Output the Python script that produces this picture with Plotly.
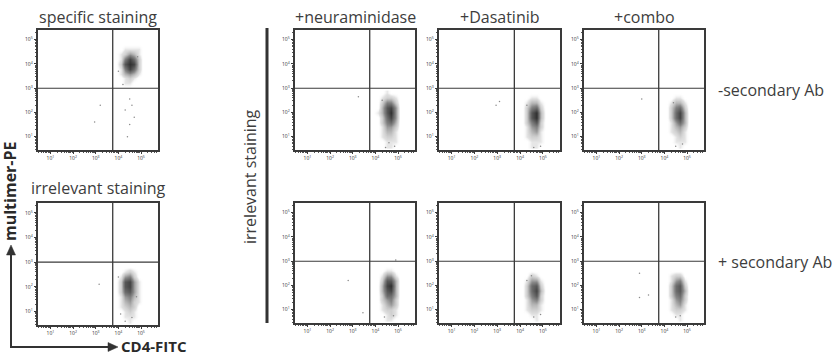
import numpy as np
import plotly.graph_objects as go

W, H = 840, 358

# ---------------- data ----------------
DECADES = [1, 2, 3, 4, 5]
TICK_TEXT = ["10<sup>1</sup>", "10<sup>2</sup>", "10<sup>3</sup>", "10<sup>4</sup>", "10<sup>5</sup>"]
X_RANGE = [0.45, 5.75]          # log10 CD4-FITC
Y_RANGE = [0.45, 5.4]           # log10 multimer-PE
GATE_X = 3.75
GATE_Y = 3.0

X_BINS = [3.9, 4.1, 4.3, 4.5, 4.7, 4.9, 5.1]
Y_BINS_NEG = [0.6, 0.8, 1.0, 1.2, 1.4, 1.6, 1.8, 2.0, 2.2, 2.4, 2.6, 2.8]
Y_BINS_POS = [3.0, 3.2, 3.4, 3.6, 3.8, 4.0, 4.2, 4.4, 4.6, 4.8]

DENS_SPECIFIC = [
    [0, 0, 0, 0, 0, 0, 0],
    [0, 0, 1, 1, 0, 0, 0],
    [0, 0, 1, 2, 1, 0, 0],
    [0, 1, 3, 4, 3, 1, 0],
    [0, 1, 5, 8, 6, 2, 0],
    [0, 2, 7, 9, 8, 2, 0],
    [0, 1, 5, 8, 6, 2, 0],
    [0, 1, 2, 4, 3, 1, 0],
    [0, 0, 1, 1, 1, 1, 0],
    [0, 0, 0, 0, 0, 0, 0],
]
DENS_IRRELEVANT = [
    [0, 0, 0, 1, 0, 0, 0],
    [0, 0, 1, 1, 1, 0, 0],
    [0, 0, 1, 2, 1, 0, 0],
    [0, 1, 2, 3, 2, 0, 0],
    [0, 1, 3, 4, 2, 1, 0],
    [0, 1, 4, 5, 3, 1, 0],
    [0, 2, 6, 7, 4, 1, 0],
    [0, 2, 7, 8, 4, 1, 0],
    [0, 2, 7, 8, 4, 1, 0],
    [0, 1, 4, 5, 2, 0, 0],
    [0, 0, 1, 2, 1, 0, 0],
    [0, 0, 0, 0, 0, 0, 0],
]
DENS_NEURA_NOSEC = [
    [0, 0, 0, 1, 1, 0, 0],
    [0, 0, 0, 1, 1, 1, 0],
    [0, 0, 1, 2, 2, 1, 0],
    [0, 0, 1, 3, 3, 1, 0],
    [0, 0, 1, 4, 4, 2, 0],
    [0, 0, 2, 5, 6, 3, 0],
    [0, 0, 2, 6, 8, 4, 0],
    [0, 1, 3, 7, 9, 4, 0],
    [0, 0, 3, 7, 8, 4, 0],
    [0, 0, 2, 5, 5, 2, 0],
    [0, 0, 1, 2, 2, 1, 0],
    [0, 0, 0, 1, 0, 0, 0],
]
DENS_DASA_NOSEC = [
    [0, 0, 0, 1, 1, 0, 0],
    [0, 0, 0, 1, 1, 1, 0],
    [0, 0, 1, 2, 2, 1, 0],
    [0, 0, 1, 3, 4, 1, 0],
    [0, 0, 1, 4, 5, 2, 0],
    [0, 0, 2, 5, 7, 2, 0],
    [0, 0, 2, 7, 9, 3, 0],
    [0, 0, 2, 7, 9, 3, 0],
    [0, 0, 2, 5, 6, 2, 0],
    [0, 0, 1, 3, 3, 1, 0],
    [0, 0, 0, 1, 1, 0, 0],
    [0, 0, 0, 0, 0, 0, 0],
]
DENS_COMBO_NOSEC = [
    [0, 0, 0, 0, 1, 0, 0],
    [0, 0, 0, 1, 1, 1, 0],
    [0, 0, 0, 1, 2, 1, 0],
    [0, 0, 1, 2, 3, 1, 0],
    [0, 0, 1, 3, 4, 2, 0],
    [0, 0, 1, 4, 6, 3, 0],
    [0, 0, 2, 6, 8, 3, 0],
    [0, 0, 2, 6, 8, 3, 0],
    [0, 0, 2, 5, 6, 2, 0],
    [0, 0, 1, 3, 3, 1, 0],
    [0, 0, 0, 1, 1, 0, 0],
    [0, 0, 0, 0, 0, 0, 0],
]
DENS_NEURA_SEC = [
    [0, 0, 0, 1, 1, 0, 0],
    [0, 0, 0, 1, 2, 1, 0],
    [0, 0, 1, 2, 2, 1, 0],
    [0, 0, 1, 3, 4, 2, 0],
    [0, 0, 2, 4, 5, 2, 0],
    [0, 0, 2, 6, 6, 3, 0],
    [0, 0, 3, 7, 8, 3, 0],
    [0, 0, 3, 8, 9, 3, 0],
    [0, 0, 2, 7, 7, 3, 0],
    [0, 0, 1, 4, 4, 1, 0],
    [0, 0, 0, 1, 1, 0, 0],
    [0, 0, 0, 0, 0, 0, 0],
]
DENS_DASA_SEC = [
    [0, 0, 0, 0, 1, 0, 0],
    [0, 0, 0, 1, 1, 0, 0],
    [0, 0, 1, 2, 2, 1, 0],
    [0, 0, 1, 3, 3, 1, 0],
    [0, 0, 1, 4, 5, 2, 0],
    [0, 0, 2, 5, 7, 2, 0],
    [0, 0, 2, 6, 8, 3, 0],
    [0, 0, 2, 6, 7, 2, 0],
    [0, 0, 1, 4, 4, 1, 0],
    [0, 0, 0, 2, 1, 0, 0],
    [0, 0, 0, 0, 0, 0, 0],
    [0, 0, 0, 0, 0, 0, 0],
]
DENS_COMBO_SEC = [
    [0, 0, 0, 0, 1, 0, 0],
    [0, 0, 0, 1, 1, 0, 0],
    [0, 0, 1, 2, 2, 1, 0],
    [0, 0, 1, 3, 4, 1, 0],
    [0, 0, 1, 4, 5, 2, 0],
    [0, 0, 2, 5, 6, 2, 0],
    [0, 0, 2, 6, 7, 3, 0],
    [0, 0, 2, 6, 7, 2, 0],
    [0, 0, 1, 4, 5, 1, 0],
    [0, 0, 1, 2, 2, 0, 0],
    [0, 0, 0, 0, 0, 0, 0],
    [0, 0, 0, 0, 0, 0, 0],
]

# sparse single events (log10 units)
OUT_X_SPECIFIC = [4.3, 4.5, 4.6, 4.4, 4.7, 4.5, 4.2, 3.2, 2.95, 4.85, 4.0]
OUT_Y_SPECIFIC = [2.1, 1.5, 2.3, 1.0, 1.8, 2.55, 3.15, 2.3, 1.6, 4.3, 3.7]
OUT_X_IRRELEVANT = [3.15, 4.1, 4.6, 4.3, 4.8, 4.0]
OUT_Y_IRRELEVANT = [2.1, 0.9, 0.75, 0.6, 1.6, 2.4]
OUT_X_NEURA_NOSEC = [3.25, 4.45, 4.85, 4.6, 4.3]
OUT_Y_NEURA_NOSEC = [2.65, 0.55, 0.6, 0.75, 2.5]
OUT_X_DASA_NOSEC = [3.1, 2.95, 4.3, 4.9, 4.6]
OUT_Y_DASA_NOSEC = [2.45, 2.3, 2.3, 0.6, 0.55]
OUT_X_COMBO_NOSEC = [3.0, 4.5, 4.8, 4.4]
OUT_Y_COMBO_NOSEC = [2.55, 0.6, 0.7, 2.4]
OUT_X_NEURA_SEC = [2.8, 3.45, 4.9, 4.4, 4.8]
OUT_Y_NEURA_SEC = [2.2, 0.87, 3.05, 0.7, 0.75]
OUT_X_DASA_SEC = [4.3, 4.9, 4.6, 4.5]
OUT_Y_DASA_SEC = [2.2, 0.8, 0.7, 2.4]
OUT_X_COMBO_SEC = [2.9, 3.3, 2.9, 4.5, 4.7]
OUT_Y_COMBO_SEC = [2.5, 1.6, 1.5, 0.7, 0.75]

COL_TITLES = ["specific staining", "+neuraminidase", "+Dasatinib", "+combo"]
ROW_LABELS = ["-secondary Ab", "+ secondary Ab"]

# ---------------- layout geometry (pixels) ----------------
PANELS = [
    dict(box=(38, 30, 158, 150), dens=DENS_SPECIFIC, ybins=Y_BINS_POS, ox=OUT_X_SPECIFIC, oy=OUT_Y_SPECIFIC),
    dict(box=(38, 203, 158, 325), dens=DENS_IRRELEVANT, ybins=Y_BINS_NEG, ox=OUT_X_IRRELEVANT, oy=OUT_Y_IRRELEVANT),
    dict(box=(295, 30, 415, 150), dens=DENS_NEURA_NOSEC, ybins=Y_BINS_NEG, ox=OUT_X_NEURA_NOSEC, oy=OUT_Y_NEURA_NOSEC),
    dict(box=(439, 30, 560, 150), dens=DENS_DASA_NOSEC, ybins=Y_BINS_NEG, ox=OUT_X_DASA_NOSEC, oy=OUT_Y_DASA_NOSEC),
    dict(box=(584, 30, 704, 150), dens=DENS_COMBO_NOSEC, ybins=Y_BINS_NEG, ox=OUT_X_COMBO_NOSEC, oy=OUT_Y_COMBO_NOSEC),
    dict(box=(295, 203, 415, 323), dens=DENS_NEURA_SEC, ybins=Y_BINS_NEG, ox=OUT_X_NEURA_SEC, oy=OUT_Y_NEURA_SEC),
    dict(box=(439, 203, 560, 323), dens=DENS_DASA_SEC, ybins=Y_BINS_NEG, ox=OUT_X_DASA_SEC, oy=OUT_Y_DASA_SEC),
    dict(box=(584, 203, 704, 323), dens=DENS_COMBO_SEC, ybins=Y_BINS_NEG, ox=OUT_X_COMBO_SEC, oy=OUT_Y_COMBO_SEC),
]


def px(x):
    return x / W


def py(y):
    return 1 - y / H


FONT = "Open Sans"
TXT = "#3d3d3d"
LINE = "#3a3a3a"

MINOR = [n + np.log10(k) for n in range(0, 6) for k in range(2, 10)]
MINOR = [float(v) for v in MINOR if X_RANGE[0] < v < X_RANGE[1]]

CSCALE = [
    [0.0, "rgba(255,255,255,0)"],
    [0.12, "rgba(190,190,190,0.45)"],
    [0.5, "rgb(138,138,138)"],
    [1.0, "rgb(48,48,48)"],
]

fig = go.Figure()
shapes = []
layout_axes = {}

for i, p in enumerate(PANELS):
    n = i + 1
    xa = "x" if n == 1 else f"x{n}"
    ya = "y" if n == 1 else f"y{n}"
    x0, y0, x1, y1 = p["box"]
    fig.add_trace(go.Heatmap(
        x=X_BINS, y=p["ybins"], z=p["dens"], zmin=0, zmax=9,
        colorscale=CSCALE, showscale=False, zsmooth="best",
        xaxis=xa, yaxis=ya, hoverinfo="skip"))
    fig.add_trace(go.Scatter(
        x=p["ox"], y=p["oy"], mode="markers",
        marker=dict(size=1.5, color="#8a8a8a"),
        xaxis=xa, yaxis=ya, showlegend=False, hoverinfo="skip"))
    common = dict(
        showline=True, linecolor=LINE, linewidth=1.5, mirror=True,
        showgrid=False, zeroline=False,
        tickmode="array", tickvals=DECADES, ticktext=TICK_TEXT,
        ticks="outside", ticklen=2.5, tickwidth=1, tickcolor=LINE,
        tickfont=dict(size=5, color="#333", family=FONT),
        minor=dict(tickmode="array", tickvals=MINOR, ticks="outside",
                   ticklen=1.5, tickwidth=0.6, tickcolor="#555"),
        fixedrange=True,
    )
    layout_axes["xaxis" if n == 1 else f"xaxis{n}"] = dict(
        common, domain=[px(x0), px(x1)], range=X_RANGE, anchor=ya)
    layout_axes["yaxis" if n == 1 else f"yaxis{n}"] = dict(
        common, domain=[py(y1), py(y0)], range=Y_RANGE, anchor=xa)
    shapes.append(dict(type="line", xref=xa, yref=ya, x0=GATE_X, x1=GATE_X,
                       y0=Y_RANGE[0], y1=Y_RANGE[1], line=dict(color=LINE, width=1.3)))
    shapes.append(dict(type="line", xref=xa, yref=ya, x0=X_RANGE[0], x1=X_RANGE[1],
                       y0=GATE_Y, y1=GATE_Y, line=dict(color=LINE, width=1.1)))

# thick vertical separator bar
shapes.append(dict(type="line", xref="paper", yref="paper", x0=px(267), x1=px(267),
                   y0=py(28), y1=py(323), line=dict(color="#333", width=3)))
# axis arrows
shapes.append(dict(type="line", xref="paper", yref="paper", x0=px(11), x1=px(11),
                   y0=py(348), y1=py(252), line=dict(color="#333", width=2)))
shapes.append(dict(type="line", xref="paper", yref="paper", x0=px(10), x1=px(110),
                   y0=py(347), y1=py(347), line=dict(color="#333", width=2)))
shapes.append(dict(type="path", xref="paper", yref="paper",
                   path=f"M {px(11)},{py(245)} L {px(15.5)},{py(255)} L {px(6.5)},{py(255)} Z",
                   fillcolor="#333", line=dict(color="#333", width=0.5)))
shapes.append(dict(type="path", xref="paper", yref="paper",
                   path=f"M {px(118)},{py(347)} L {px(108)},{py(342.5)} L {px(108)},{py(351.5)} Z",
                   fillcolor="#333", line=dict(color="#333", width=0.5)))

annotations = []
title_pos = [(98, 17), (355, 17), (500, 17), (644, 17)]
for t, (x, y) in zip(COL_TITLES, title_pos):
    annotations.append(dict(text=t, x=px(x), y=py(y), xref="paper", yref="paper",
                            showarrow=False, xanchor="center", yanchor="middle",
                            font=dict(size=16, color=TXT, family=FONT)))
annotations.append(dict(text="irrelevant staining", x=px(98), y=py(188), xref="paper", yref="paper",
                        showarrow=False, xanchor="center", yanchor="middle",
                        font=dict(size=16, color=TXT, family=FONT)))
for t, y in zip(ROW_LABELS, [90, 262]):
    annotations.append(dict(text=t, x=px(716), y=py(y), xref="paper", yref="paper",
                            showarrow=False, xanchor="left", yanchor="middle",
                            font=dict(size=16, color=TXT, family=FONT)))
annotations.append(dict(text="irrelevant staining", x=px(250), y=py(177), xref="paper", yref="paper",
                        showarrow=False, xanchor="center", yanchor="middle", textangle=-90,
                        font=dict(size=16, color=TXT, family=FONT)))
annotations.append(dict(text="<b>multimer-PE</b>", x=px(10), y=py(191), xref="paper", yref="paper",
                        showarrow=False, xanchor="center", yanchor="middle", textangle=-90,
                        font=dict(size=16, color="#2a2a2a", family=FONT)))
annotations.append(dict(text="<b>CD4-FITC</b>", x=px(119), y=py(357.5), xref="paper", yref="paper",
                        showarrow=False, xanchor="left", yanchor="bottom",
                        font=dict(size=15, color="#2a2a2a", family=FONT)))

fig.update_layout(
    width=W, height=H, margin=dict(l=0, r=0, t=0, b=0),
    paper_bgcolor="white", plot_bgcolor="white", showlegend=False,
    shapes=shapes, annotations=annotations, **layout_axes)

fig.write_html("out.html", config={"displayModeBar": False},
               post_script="document.body.style.margin='0px';document.body.style.overflow='hidden';")
